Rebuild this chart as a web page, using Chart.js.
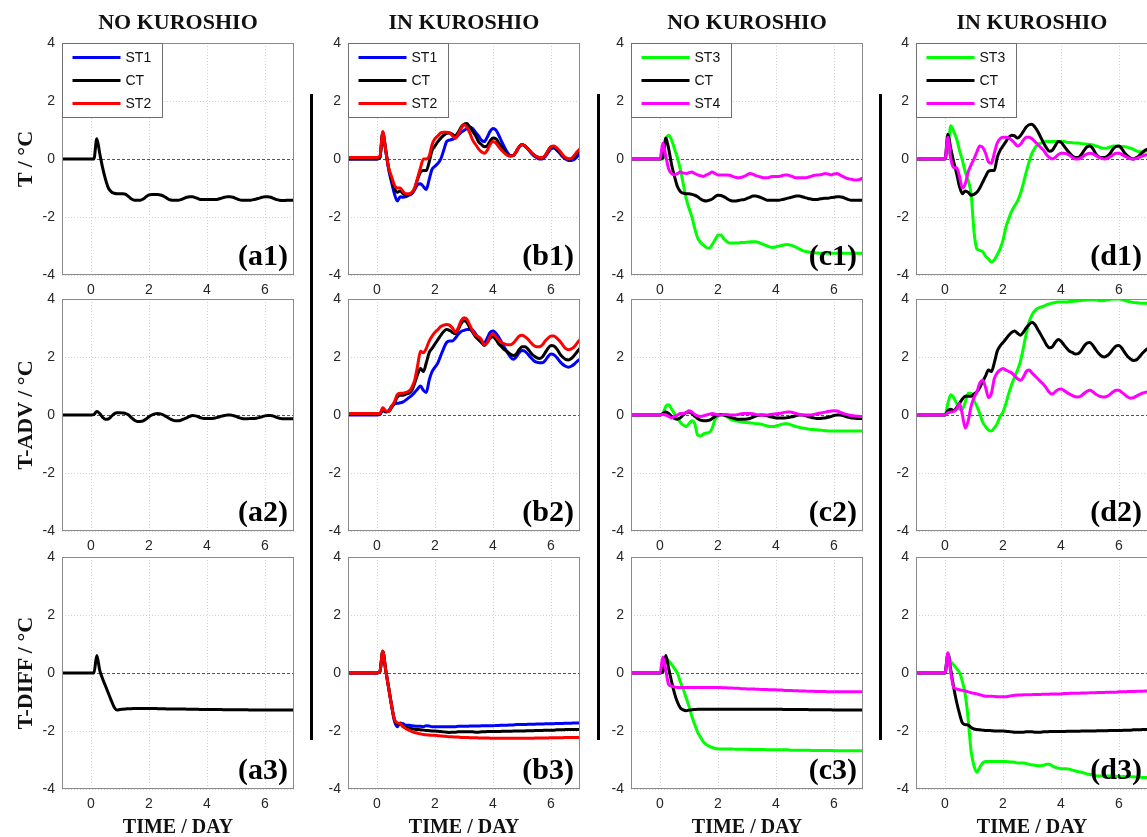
<!DOCTYPE html>
<html>
<head>
<meta charset="utf-8">
<script src="https://cdn.jsdelivr.net/npm/chart.js@4.4.1/dist/chart.umd.min.js"></script>
<style>
  html, body { margin: 0; padding: 0; background: #fff; }
  body { position: relative; width: 1147px; height: 837px; overflow: hidden; }
  canvas { position: absolute; }
  .lbl { position: absolute; font-family: "Liberation Serif", "Times New Roman", serif; font-weight: bold;
         color: #111; white-space: nowrap; transform: translate(-50%, -50%); line-height: 1; }
  .rot { transform: translate(-50%, -50%) rotate(-90deg); }
  .sep { position: absolute; background: #000; width: 3px; }
</style>
</head>
<body>
<script>
// ---- sampling grid (days) ----
const TIME = [-1,
  0.0,0.1,0.2,0.3,0.4,0.5,0.6,0.7,0.8,0.9,
  1.0,1.1,1.2,1.3,1.4,1.5,1.6,1.7,1.8,1.9,
  2.0,2.1,2.2,2.3,2.4,2.5,2.6,2.7,2.8,2.9,
  3.0,3.1,3.2,3.3,3.4,3.5,3.6,3.7,3.8,3.9,
  4.0,4.1,4.2,4.3,4.4,4.5,4.6,4.7,4.8,4.9,
  5.0,5.1,5.2,5.3,5.4,5.5,5.6,5.7,5.8,5.9,
  6.0,6.1,6.2,6.3,6.4,6.5,6.6,6.7,6.8,6.9,
  7.0];

const X_TICKS = [0, 2, 4, 6];
const Y_TICKS = [-4, -2, 0, 2, 4];

// ---- NO KUROSHIO, stations ST1 / CT / ST2 ----
const A1_CT = [0,
  0,0,0.7,0.2,-0.3,-0.7,-1.0,-1.13,-1.18,-1.2,
  -1.2,-1.2,-1.22,-1.3,-1.38,-1.42,-1.42,-1.42,-1.38,-1.3,
  -1.24,-1.22,-1.22,-1.22,-1.24,-1.28,-1.34,-1.4,-1.42,-1.42,
  -1.42,-1.4,-1.36,-1.32,-1.3,-1.3,-1.33,-1.37,-1.4,-1.4,
  -1.4,-1.4,-1.4,-1.4,-1.38,-1.35,-1.32,-1.3,-1.3,-1.32,
  -1.36,-1.4,-1.42,-1.42,-1.42,-1.42,-1.4,-1.38,-1.35,-1.32,
  -1.3,-1.3,-1.32,-1.36,-1.4,-1.42,-1.43,-1.43,-1.42,-1.42,
  -1.42];
const A2_CT = [0,
  0,0.02,0.12,0.05,-0.08,-0.15,-0.14,-0.05,0.04,0.08,
  0.08,0.07,0.05,0,-0.1,-0.18,-0.22,-0.22,-0.2,-0.14,
  -0.06,0,0.04,0.05,0.04,0,-0.06,-0.12,-0.17,-0.2,
  -0.2,-0.18,-0.14,-0.1,-0.05,-0.02,-0.03,-0.06,-0.1,-0.12,
  -0.12,-0.12,-0.12,-0.1,-0.07,-0.04,-0.02,0,0,-0.02,
  -0.05,-0.09,-0.12,-0.13,-0.13,-0.12,-0.12,-0.11,-0.09,-0.06,
  -0.03,-0.02,-0.02,-0.04,-0.08,-0.11,-0.13,-0.13,-0.13,-0.13,
  -0.13];
const A3_CT = [0,
  0,0,0.6,0.1,-0.2,-0.45,-0.7,-0.95,-1.18,-1.28,
  -1.26,-1.25,-1.24,-1.23,-1.23,-1.22,-1.22,-1.22,-1.22,-1.22,
  -1.22,-1.22,-1.22,-1.23,-1.23,-1.23,-1.24,-1.24,-1.24,-1.24,
  -1.24,-1.24,-1.24,-1.25,-1.25,-1.25,-1.25,-1.25,-1.26,-1.26,
  -1.26,-1.26,-1.26,-1.26,-1.26,-1.26,-1.27,-1.27,-1.27,-1.27,
  -1.27,-1.27,-1.27,-1.27,-1.27,-1.28,-1.28,-1.28,-1.28,-1.28,
  -1.28,-1.28,-1.28,-1.28,-1.28,-1.28,-1.28,-1.28,-1.28,-1.28,
  -1.28];

// ---- IN KUROSHIO, stations ST1 / CT / ST2 ----
const B1_ST1 = [0,
  0,0.05,0.9,0.3,-0.35,-0.8,-1.2,-1.45,-1.3,-1.32,
  -1.3,-1.25,-1.2,-1.05,-0.88,-0.85,-0.95,-1.05,-0.7,-0.35,
  -0.25,-0.15,0,0.3,0.6,0.65,0.68,0.72,0.82,0.92,
  0.98,1.05,1.1,1.05,0.92,0.8,0.65,0.6,0.75,0.95,
  1.05,1.0,0.82,0.6,0.4,0.22,0.12,0.12,0.25,0.42,
  0.5,0.45,0.35,0.22,0.12,0.05,0,0,0.08,0.22,
  0.35,0.38,0.3,0.2,0.08,0,-0.05,-0.05,-0.02,0.08,
  0.18];
const B1_CT = [0,
  0,0.05,0.9,0.3,-0.3,-0.7,-1.0,-1.15,-1.1,-1.2,
  -1.25,-1.22,-1.18,-1.0,-0.7,-0.45,-0.4,-0.4,-0.1,0.3,
  0.45,0.6,0.72,0.82,0.88,0.9,0.85,0.8,0.92,1.1,
  1.2,1.22,1.1,0.95,0.8,0.6,0.5,0.42,0.45,0.62,
  0.72,0.7,0.55,0.42,0.28,0.15,0.1,0.12,0.25,0.42,
  0.5,0.45,0.35,0.25,0.15,0.08,0.05,0.05,0.12,0.28,
  0.42,0.42,0.35,0.25,0.12,0.03,0,0,0.08,0.2,
  0.3];
const B1_ST2 = [0.05,
  0.05,0.1,0.95,0.3,-0.3,-0.6,-0.9,-1.0,-1.0,-1.12,
  -1.2,-1.2,-1.15,-1.0,-0.65,-0.3,0,0,0.1,0.5,
  0.7,0.8,0.9,0.92,0.92,0.9,0.8,0.72,0.85,1.05,
  1.18,1.1,0.9,0.65,0.5,0.35,0.25,0.2,0.3,0.5,
  0.6,0.55,0.42,0.3,0.2,0.12,0.1,0.12,0.25,0.42,
  0.5,0.45,0.35,0.25,0.15,0.08,0.05,0.05,0.12,0.28,
  0.42,0.45,0.38,0.28,0.15,0.05,0,0.02,0.12,0.25,
  0.35];

const B2_ST1 = [0,
  0,0.02,0.15,0.1,0.15,0.3,0.38,0.4,0.42,0.45,
  0.52,0.6,0.68,0.78,0.9,1.0,0.85,0.78,1.2,1.5,
  1.65,1.8,2.05,2.3,2.5,2.55,2.55,2.65,2.78,2.88,
  2.92,2.95,2.95,2.92,2.8,2.62,2.52,2.5,2.65,2.85,
  2.9,2.82,2.68,2.5,2.32,2.15,2.0,1.92,2.0,2.15,
  2.22,2.2,2.1,1.98,1.88,1.82,1.8,1.8,1.88,2.02,
  2.1,2.08,1.98,1.85,1.75,1.68,1.65,1.68,1.75,1.85,
  1.92];
const B2_CT = [0.02,
  0.02,0.03,0.2,0.12,0.12,0.25,0.4,0.62,0.68,0.68,
  0.72,0.75,0.85,1.1,1.4,1.6,1.5,1.8,2.15,2.3,
  2.45,2.6,2.75,2.88,2.95,2.92,2.85,2.8,2.95,3.15,
  3.25,3.2,3.0,2.85,2.7,2.6,2.5,2.4,2.5,2.65,
  2.7,2.6,2.45,2.35,2.25,2.18,2.1,2.05,2.1,2.25,
  2.35,2.35,2.28,2.15,2.05,1.98,1.95,2.0,2.15,2.3,
  2.4,2.38,2.28,2.12,2.0,1.92,1.9,1.95,2.05,2.18,
  2.3];
const B2_ST2 = [0.05,
  0.05,0.05,0.25,0.15,0.12,0.3,0.45,0.7,0.75,0.75,
  0.78,0.82,0.95,1.2,1.7,2.2,2.15,2.3,2.55,2.72,
  2.85,2.95,3.05,3.1,3.12,3.1,3.0,2.85,3.0,3.25,
  3.35,3.3,3.1,2.9,2.75,2.7,2.6,2.42,2.5,2.7,
  2.8,2.7,2.58,2.5,2.45,2.42,2.42,2.48,2.6,2.72,
  2.75,2.7,2.62,2.5,2.4,2.35,2.35,2.42,2.55,2.65,
  2.72,2.72,2.65,2.55,2.42,2.3,2.25,2.28,2.35,2.48,
  2.6];

const B3_ST1 = [0,
  0,0.05,0.75,0.1,-0.5,-1.1,-1.65,-1.85,-1.72,-1.75,
  -1.8,-1.8,-1.82,-1.83,-1.84,-1.84,-1.85,-1.82,-1.83,-1.85,
  -1.85,-1.85,-1.85,-1.85,-1.85,-1.85,-1.85,-1.85,-1.84,-1.84,
  -1.84,-1.84,-1.83,-1.83,-1.83,-1.83,-1.82,-1.82,-1.82,-1.82,
  -1.82,-1.81,-1.81,-1.8,-1.8,-1.8,-1.79,-1.79,-1.78,-1.78,
  -1.78,-1.78,-1.77,-1.77,-1.77,-1.76,-1.76,-1.76,-1.75,-1.75,
  -1.75,-1.75,-1.74,-1.74,-1.74,-1.73,-1.73,-1.73,-1.72,-1.72,
  -1.72];
const B3_CT = [0,
  0,0.05,0.75,0.1,-0.5,-1.1,-1.6,-1.75,-1.75,-1.85,
  -1.88,-1.9,-1.92,-1.94,-1.95,-1.96,-1.97,-1.98,-1.99,-2.0,
  -2.0,-2.01,-2.02,-2.03,-2.04,-2.05,-2.04,-2.04,-2.03,-2.03,
  -2.03,-2.03,-2.03,-2.03,-2.04,-2.04,-2.03,-2.03,-2.02,-2.02,
  -2.02,-2.02,-2.02,-2.01,-2.01,-2.01,-2.01,-2.0,-2.0,-2.0,
  -2.0,-2.0,-1.99,-1.99,-1.99,-1.98,-1.98,-1.98,-1.97,-1.97,
  -1.97,-1.97,-1.96,-1.96,-1.96,-1.95,-1.95,-1.95,-1.95,-1.95,
  -1.95];
const B3_ST2 = [0,
  0,0.05,0.75,0.1,-0.5,-1.1,-1.6,-1.72,-1.75,-1.85,
  -1.92,-1.97,-2.02,-2.05,-2.08,-2.1,-2.12,-2.13,-2.14,-2.15,
  -2.15,-2.16,-2.17,-2.18,-2.19,-2.2,-2.2,-2.21,-2.21,-2.22,
  -2.22,-2.22,-2.23,-2.23,-2.23,-2.24,-2.24,-2.24,-2.24,-2.25,
  -2.25,-2.25,-2.25,-2.25,-2.25,-2.25,-2.25,-2.25,-2.25,-2.25,
  -2.25,-2.25,-2.25,-2.25,-2.25,-2.24,-2.24,-2.24,-2.24,-2.24,
  -2.23,-2.23,-2.23,-2.23,-2.23,-2.22,-2.22,-2.22,-2.22,-2.22,
  -2.22];

// ---- NO KUROSHIO, stations ST3 / CT / ST4 ----
const C1_ST3 = [0,
  0,0,0.65,0.82,0.65,0.35,0.05,-0.35,-0.85,-1.35,
  -1.7,-2.0,-2.4,-2.72,-2.88,-2.97,-3.05,-3.08,-2.95,-2.78,
  -2.62,-2.62,-2.75,-2.84,-2.9,-2.9,-2.9,-2.9,-2.88,-2.88,
  -2.87,-2.86,-2.85,-2.85,-2.88,-2.92,-2.96,-3.0,-3.04,-3.05,
  -3.03,-3.0,-2.98,-2.96,-2.95,-2.97,-3.0,-3.05,-3.1,-3.15,
  -3.18,-3.2,-3.22,-3.23,-3.24,-3.25,-3.25,-3.25,-3.25,-3.25,
  -3.25,-3.25,-3.25,-3.25,-3.25,-3.25,-3.25,-3.25,-3.25,-3.25,
  -3.25];
const C1_CT = [0,
  0,0.05,0.72,0.35,-0.2,-0.6,-0.95,-1.12,-1.18,-1.2,
  -1.2,-1.22,-1.25,-1.3,-1.38,-1.43,-1.45,-1.42,-1.38,-1.3,
  -1.25,-1.26,-1.3,-1.36,-1.42,-1.45,-1.45,-1.43,-1.41,-1.4,
  -1.36,-1.32,-1.28,-1.28,-1.3,-1.34,-1.38,-1.42,-1.42,-1.42,
  -1.42,-1.42,-1.4,-1.38,-1.35,-1.33,-1.3,-1.28,-1.28,-1.3,
  -1.33,-1.36,-1.38,-1.4,-1.4,-1.38,-1.36,-1.35,-1.35,-1.33,
  -1.32,-1.3,-1.3,-1.32,-1.36,-1.4,-1.42,-1.42,-1.42,-1.42,
  -1.42];
const C1_ST4 = [0,
  0,0.55,0.1,-0.35,-0.5,-0.55,-0.5,-0.45,-0.48,-0.5,
  -0.47,-0.45,-0.5,-0.55,-0.58,-0.6,-0.55,-0.5,-0.45,-0.5,
  -0.55,-0.55,-0.55,-0.55,-0.56,-0.6,-0.63,-0.65,-0.63,-0.6,
  -0.55,-0.5,-0.52,-0.57,-0.6,-0.63,-0.65,-0.65,-0.62,-0.6,
  -0.6,-0.6,-0.58,-0.55,-0.55,-0.58,-0.62,-0.65,-0.65,-0.65,
  -0.65,-0.63,-0.6,-0.57,-0.55,-0.55,-0.53,-0.5,-0.52,-0.55,
  -0.52,-0.5,-0.55,-0.6,-0.65,-0.68,-0.7,-0.72,-0.72,-0.7,
  -0.65];

const C2_ST3 = [0,
  0,0.05,0.3,0.35,0.2,0.05,-0.1,-0.25,-0.35,-0.4,
  -0.3,-0.2,-0.3,-0.7,-0.72,-0.65,-0.62,-0.6,-0.45,-0.15,
  -0.05,0,0,-0.05,-0.12,-0.18,-0.2,-0.22,-0.24,-0.25,
  -0.26,-0.27,-0.28,-0.3,-0.3,-0.32,-0.35,-0.38,-0.4,-0.4,
  -0.38,-0.35,-0.32,-0.3,-0.3,-0.33,-0.37,-0.4,-0.42,-0.45,
  -0.46,-0.48,-0.5,-0.5,-0.51,-0.52,-0.53,-0.54,-0.55,-0.55,
  -0.55,-0.55,-0.55,-0.55,-0.55,-0.55,-0.55,-0.55,-0.55,-0.55,
  -0.55];
const C2_CT = [0,
  0,0.05,0.1,0.05,-0.05,-0.12,-0.15,-0.1,0,0.08,
  0.1,0.05,-0.05,-0.12,-0.18,-0.2,-0.2,-0.18,-0.12,-0.05,
  0,0.02,0,-0.03,-0.07,-0.1,-0.13,-0.15,-0.15,-0.15,
  -0.14,-0.12,-0.08,-0.04,-0.01,0,-0.01,-0.03,-0.06,-0.08,
  -0.1,-0.1,-0.1,-0.1,-0.09,-0.07,-0.05,-0.02,0,0,
  -0.02,-0.05,-0.08,-0.1,-0.12,-0.12,-0.11,-0.1,-0.08,-0.05,
  -0.02,0,0,-0.02,-0.05,-0.08,-0.1,-0.11,-0.12,-0.12,
  -0.12];
const C2_ST4 = [0,
  0,0.02,0,-0.05,-0.1,-0.05,0,0.05,0.05,0.08,
  0.15,0.1,0.02,-0.03,-0.05,-0.03,0,0.03,0.05,0.03,
  0,0,0.02,0.02,0,0,0,0.02,0.04,0.05,
  0.05,0.05,0.04,0.02,0,0,0,0,0.02,0.03,
  0.04,0.05,0.07,0.09,0.1,0.1,0.08,0.05,0.02,0,
  0,0,0,0.02,0.04,0.06,0.08,0.1,0.12,0.14,
  0.15,0.14,0.1,0.06,0.03,0,-0.02,-0.03,-0.04,-0.05,
  -0.05];

const C3_ST3 = [0,
  0,0.05,0.5,0.42,0.3,0.15,0,-0.3,-0.55,-0.85,
  -1.15,-1.5,-1.78,-2.05,-2.22,-2.38,-2.47,-2.53,-2.57,-2.6,
  -2.62,-2.62,-2.62,-2.62,-2.62,-2.62,-2.63,-2.63,-2.63,-2.63,
  -2.63,-2.64,-2.64,-2.64,-2.64,-2.64,-2.64,-2.65,-2.65,-2.65,
  -2.65,-2.65,-2.65,-2.65,-2.65,-2.66,-2.66,-2.66,-2.66,-2.66,
  -2.66,-2.66,-2.67,-2.67,-2.67,-2.67,-2.67,-2.67,-2.67,-2.67,
  -2.68,-2.68,-2.68,-2.68,-2.68,-2.68,-2.68,-2.68,-2.68,-2.68,
  -2.68];
const C3_CT = [0,
  0,0.05,0.6,0.15,-0.3,-0.7,-1.0,-1.2,-1.27,-1.3,
  -1.28,-1.27,-1.26,-1.25,-1.25,-1.25,-1.25,-1.25,-1.25,-1.25,
  -1.25,-1.25,-1.25,-1.25,-1.25,-1.25,-1.25,-1.25,-1.25,-1.25,
  -1.25,-1.25,-1.25,-1.25,-1.25,-1.25,-1.25,-1.25,-1.25,-1.25,
  -1.25,-1.25,-1.25,-1.26,-1.26,-1.26,-1.26,-1.26,-1.26,-1.26,
  -1.26,-1.26,-1.27,-1.27,-1.27,-1.27,-1.27,-1.27,-1.27,-1.27,
  -1.28,-1.28,-1.28,-1.28,-1.28,-1.28,-1.28,-1.28,-1.28,-1.28,
  -1.28];
const C3_ST4 = [0,
  0,0.55,0.1,-0.4,-0.45,-0.48,-0.5,-0.5,-0.5,-0.5,
  -0.5,-0.5,-0.5,-0.5,-0.5,-0.5,-0.5,-0.5,-0.5,-0.5,
  -0.5,-0.5,-0.51,-0.51,-0.52,-0.52,-0.53,-0.53,-0.54,-0.54,
  -0.55,-0.55,-0.55,-0.56,-0.56,-0.57,-0.57,-0.57,-0.58,-0.58,
  -0.58,-0.59,-0.59,-0.6,-0.6,-0.6,-0.61,-0.61,-0.62,-0.62,
  -0.62,-0.63,-0.63,-0.63,-0.64,-0.64,-0.64,-0.64,-0.65,-0.65,
  -0.65,-0.65,-0.65,-0.65,-0.65,-0.65,-0.65,-0.65,-0.65,-0.65,
  -0.65];

// ---- IN KUROSHIO, stations ST3 / CT / ST4 ----
const D1_ST3 = [0,
  0,0.3,1.15,0.95,0.7,0.3,-0.05,-0.45,-0.75,-1.2,
  -2.5,-3.1,-3.15,-3.2,-3.35,-3.45,-3.55,-3.48,-3.3,-3.1,
  -2.8,-2.35,-2.05,-1.8,-1.62,-1.45,-1.2,-0.85,-0.45,-0.1,
  0.2,0.38,0.5,0.55,0.58,0.6,0.6,0.6,0.6,0.6,
  0.6,0.6,0.58,0.57,0.56,0.55,0.55,0.53,0.52,0.51,
  0.5,0.48,0.45,0.42,0.38,0.37,0.38,0.42,0.45,0.45,
  0.44,0.43,0.42,0.4,0.37,0.33,0.28,0.25,0.25,0.27,
  0.3];
const D1_CT = [0,
  0,0.85,0.35,-0.1,-0.5,-0.95,-1.2,-1.1,-1.15,-1.25,
  -1.22,-1.15,-1.0,-0.8,-0.6,-0.42,-0.4,-0.4,0.05,0.3,
  0.45,0.6,0.75,0.82,0.8,0.72,0.8,0.95,1.1,1.18,
  1.2,1.1,0.95,0.75,0.55,0.38,0.27,0.3,0.45,0.6,
  0.58,0.45,0.32,0.2,0.1,0.05,0.05,0.15,0.3,0.42,
  0.45,0.35,0.18,0.08,0.05,0.05,0.1,0.2,0.35,0.43,
  0.45,0.35,0.2,0.1,0.03,0,0.05,0.12,0.22,0.3,
  0.35];
const D1_ST4 = [0,
  0,0.75,0,-0.3,-0.3,-0.6,-1.0,-0.85,-0.45,-0.2,
  0,0.25,0.45,0.4,0.2,-0.1,-0.15,0.2,0.55,0.7,
  0.75,0.75,0.72,0.65,0.55,0.45,0.5,0.65,0.75,0.75,
  0.7,0.6,0.5,0.4,0.3,0.15,0.05,0,0.05,0.15,
  0.2,0.2,0.18,0.12,0.05,0,0,0.05,0.12,0.18,
  0.2,0.18,0.12,0.06,0.02,0,0.02,0.08,0.15,0.2,
  0.2,0.15,0.1,0.05,0.01,0,0.02,0.06,0.1,0.14,
  0.15];

const D2_ST3 = [0,
  0,0.4,0.7,0.6,0.4,0.2,0.2,0.45,0.75,0.75,
  0.5,0.3,0.05,-0.25,-0.4,-0.52,-0.55,-0.45,-0.3,-0.05,
  0.1,0.4,0.75,1.05,1.3,1.55,1.85,2.3,2.8,3.2,
  3.45,3.6,3.68,3.72,3.75,3.8,3.83,3.86,3.88,3.9,
  3.9,3.9,3.9,3.91,3.92,3.93,3.94,3.95,3.96,3.97,
  3.98,3.98,3.97,3.95,3.94,3.95,3.97,3.99,4.0,4.0,
  4.0,3.98,3.95,3.92,3.9,3.88,3.87,3.86,3.85,3.85,
  3.85];
const D2_CT = [0,
  0,0.15,0.2,0.15,0.25,0.4,0.55,0.65,0.65,0.65,
  0.72,0.8,0.95,1.15,1.35,1.55,1.5,1.8,2.2,2.38,
  2.5,2.62,2.75,2.85,2.9,2.82,2.75,2.85,3.0,3.12,
  3.2,3.12,2.95,2.78,2.6,2.42,2.32,2.35,2.5,2.6,
  2.55,2.42,2.3,2.2,2.15,2.1,2.12,2.22,2.38,2.48,
  2.5,2.4,2.25,2.12,2.03,2.0,2.05,2.15,2.28,2.38,
  2.4,2.3,2.15,2.02,1.93,1.88,1.9,2.0,2.12,2.22,
  2.3];
const D2_ST4 = [0,
  0,0.08,0.1,0.12,0.2,0.4,0,-0.45,-0.2,0.3,
  0.6,0.8,1.1,1.2,0.95,0.6,0.75,1.25,1.45,1.55,
  1.6,1.55,1.5,1.45,1.35,1.25,1.2,1.3,1.5,1.55,
  1.45,1.35,1.25,1.15,1.05,0.92,0.78,0.72,0.8,0.88,
  0.9,0.85,0.78,0.72,0.67,0.63,0.62,0.66,0.75,0.82,
  0.85,0.8,0.72,0.66,0.63,0.62,0.65,0.72,0.8,0.85,
  0.85,0.78,0.7,0.62,0.58,0.6,0.65,0.7,0.75,0.78,
  0.8];

const D3_ST3 = [0,
  0,0.65,0.4,0.28,0.15,0.02,-0.3,-0.75,-1.6,-2.7,
  -3.2,-3.42,-3.25,-3.1,-3.05,-3.05,-3.05,-3.05,-3.05,-3.05,
  -3.05,-3.05,-3.06,-3.07,-3.08,-3.1,-3.1,-3.1,-3.12,-3.15,
  -3.17,-3.18,-3.2,-3.2,-3.18,-3.15,-3.15,-3.2,-3.25,-3.28,
  -3.3,-3.3,-3.3,-3.32,-3.35,-3.38,-3.4,-3.42,-3.45,-3.48,
  -3.5,-3.52,-3.54,-3.55,-3.55,-3.55,-3.55,-3.55,-3.56,-3.56,
  -3.57,-3.57,-3.57,-3.58,-3.58,-3.58,-3.59,-3.59,-3.6,-3.6,
  -3.6];
const D3_CT = [0,
  0,0.65,0.1,-0.5,-1.0,-1.4,-1.72,-1.78,-1.8,-1.88,
  -1.93,-1.95,-1.96,-1.97,-1.98,-1.98,-1.99,-2.0,-2.0,-2.0,
  -2.0,-2.01,-2.02,-2.03,-2.04,-2.04,-2.04,-2.04,-2.03,-2.03,
  -2.03,-2.04,-2.04,-2.04,-2.03,-2.03,-2.02,-2.02,-2.02,-2.02,
  -2.02,-2.02,-2.01,-2.01,-2.01,-2.01,-2.01,-2.0,-2.0,-2.0,
  -2.0,-2.0,-2.0,-1.99,-1.99,-1.99,-1.99,-1.98,-1.98,-1.98,
  -1.98,-1.98,-1.97,-1.97,-1.97,-1.96,-1.96,-1.96,-1.95,-1.95,
  -1.95];
const D3_ST4 = [0,
  0,0.7,0,-0.5,-0.55,-0.58,-0.6,-0.62,-0.65,-0.68,
  -0.7,-0.72,-0.75,-0.78,-0.8,-0.8,-0.8,-0.81,-0.82,-0.82,
  -0.82,-0.82,-0.8,-0.78,-0.77,-0.76,-0.76,-0.75,-0.75,-0.75,
  -0.75,-0.74,-0.74,-0.74,-0.73,-0.73,-0.73,-0.72,-0.72,-0.72,
  -0.72,-0.71,-0.71,-0.7,-0.7,-0.7,-0.7,-0.69,-0.69,-0.69,
  -0.68,-0.68,-0.68,-0.67,-0.67,-0.67,-0.66,-0.66,-0.66,-0.66,
  -0.65,-0.65,-0.65,-0.64,-0.64,-0.64,-0.63,-0.63,-0.63,-0.62,
  -0.62];

// ---- text ----
const COLUMN_TITLES = ['NO KUROSHIO', 'IN KUROSHIO', 'NO KUROSHIO', 'IN KUROSHIO'];
const ROW_TITLES = ['T / °C', 'T-ADV / °C', 'T-DIFF / °C'];
const X_TITLE = 'TIME / DAY';

// ---- look ----
const COLORS = { ST1: '#0000ff', CT: '#000000', ST2: '#ff0000', ST3: '#00ff00', ST4: '#ff00ff' };
const COL_LEFT = [62, 348, 631, 916];
const ROW_TOP = [43, 299, 557];
const PLOT_W = 232, PLOT_H = 232;
const AXIS_W = 45, AXIS_H = 26, PAD_T = 10, PAD_R = 8;

// Panel grid: [tag, column, row, series (name, values), legend entries]
const PANELS = [
  ['(a1)', 0, 0, [['ST1', []], ['ST2', []], ['CT', A1_CT]], ['ST1', 'CT', 'ST2']],
  ['(a2)', 0, 1, [['CT', A2_CT]]],
  ['(a3)', 0, 2, [['CT', A3_CT]]],
  ['(b1)', 1, 0, [['ST1', B1_ST1], ['CT', B1_CT], ['ST2', B1_ST2]], ['ST1', 'CT', 'ST2']],
  ['(b2)', 1, 1, [['ST1', B2_ST1], ['CT', B2_CT], ['ST2', B2_ST2]]],
  ['(b3)', 1, 2, [['ST1', B3_ST1], ['CT', B3_CT], ['ST2', B3_ST2]]],
  ['(c1)', 2, 0, [['ST3', C1_ST3], ['CT', C1_CT], ['ST4', C1_ST4]], ['ST3', 'CT', 'ST4']],
  ['(c2)', 2, 1, [['ST3', C2_ST3], ['CT', C2_CT], ['ST4', C2_ST4]]],
  ['(c3)', 2, 2, [['ST3', C3_ST3], ['CT', C3_CT], ['ST4', C3_ST4]]],
  ['(d1)', 3, 0, [['ST3', D1_ST3], ['CT', D1_CT], ['ST4', D1_ST4]], ['ST3', 'CT', 'ST4']],
  ['(d2)', 3, 1, [['ST3', D2_ST3], ['CT', D2_CT], ['ST4', D2_ST4]]],
  ['(d3)', 3, 2, [['ST3', D3_ST3], ['CT', D3_CT], ['ST4', D3_ST4]]],
];

// Frame, panel tag and the inset legend, drawn on top of the curves
const panelDecor = {
  id: 'panelDecor',
  afterDatasetsDraw(chart, args, opts) {
    const { ctx, chartArea: a } = chart;
    ctx.save();
    ctx.font = 'bold 30px "Liberation Serif", "Times New Roman", serif';
    ctx.textAlign = 'right';
    ctx.textBaseline = 'alphabetic';
    ctx.fillStyle = '#000';
    ctx.fillText(opts.tag, a.right - 6, a.bottom - 10);

    ctx.strokeStyle = '#8a8a8a';
    ctx.lineWidth = 1;
    ctx.strokeRect(Math.round(a.left) + 0.5, Math.round(a.top) + 0.5,
                   Math.round(a.width) - 1, Math.round(a.height) - 1);

    if (opts.legend) {
      const x = Math.round(a.left) + 0.5, y = Math.round(a.top) + 0.5;
      ctx.fillStyle = '#fff';
      ctx.fillRect(x, y, 100, 74);
      ctx.strokeStyle = '#6e6e6e';
      ctx.strokeRect(x, y, 100, 74);
      ctx.font = '14px "Liberation Sans", Arial, sans-serif';
      ctx.textAlign = 'left';
      ctx.textBaseline = 'middle';
      opts.legend.forEach((name, i) => {
        const ly = y + 14 + i * 23;
        ctx.strokeStyle = COLORS[name];
        ctx.lineWidth = 3;
        ctx.beginPath();
        ctx.moveTo(x + 10, ly);
        ctx.lineTo(x + 58, ly);
        ctx.stroke();
        ctx.fillStyle = '#111';
        ctx.fillText(name, x + 63, ly + 1);
      });
    }
    ctx.restore();
  }
};

function gridColor(c) { return c.tick && c.tick.value === 0 ? '#555' : '#d2d2d2'; }
function gridDash(c) { return c.tick && c.tick.value === 0 ? [3, 2] : [1, 2]; }

function axis(min, max, ticks, isX) {
  return {
    type: 'linear', min, max,
    afterBuildTicks: s => { s.ticks = ticks.map(v => ({ value: v })); },
    afterFit: s => {
      if (isX) s.height = AXIS_H; else s.width = AXIS_W;
      s.paddingTop = 0; s.paddingBottom = 0; s.paddingLeft = 0; s.paddingRight = 0;
    },
    grid: { color: isX ? '#d2d2d2' : gridColor, lineWidth: 1, drawTicks: false },
    border: { display: false, dash: isX ? [1, 2] : gridDash },
    ticks: {
      autoSkip: false, maxRotation: 0, padding: 7, color: '#262626',
      font: { family: '"Liberation Sans", Arial, sans-serif', size: 14 },
      callback: v => String(v)
    }
  };
}

PANELS.forEach(([tag, col, row, series, legend]) => {
  const cv = document.createElement('canvas');
  const W = AXIS_W + PLOT_W + PAD_R, H = PAD_T + PLOT_H + AXIS_H;
  cv.width = W; cv.height = H;
  cv.style.width = W + 'px'; cv.style.height = H + 'px';
  cv.style.left = (COL_LEFT[col] - AXIS_W) + 'px';
  cv.style.top = (ROW_TOP[row] - PAD_T) + 'px';
  document.body.appendChild(cv);

  const n = series.length;
  const datasets = series.map(([name, vals], i) => ({
    label: name,
    data: vals.map((v, k) => ({ x: TIME[k], y: v })),
    borderColor: COLORS[name],
    borderWidth: 3,
    pointRadius: 0,
    fill: false,
    cubicInterpolationMode: 'monotone',
    order: n - i
  }));

  new Chart(cv, {
    type: 'line',
    data: { datasets },
    options: {
      responsive: false, animation: false, devicePixelRatio: 1,
      layout: { padding: { top: PAD_T, right: PAD_R, left: 0, bottom: 0 } },
      plugins: { legend: { display: false }, tooltip: { enabled: false },
                 panelDecor: { tag, legend } },
      scales: { x: axis(-1, 7, X_TICKS, true), y: axis(-4, 4, Y_TICKS, false) }
    },
    plugins: [panelDecor]
  });
});

// Titles, axis names and the column separators
function addText(txt, x, y, size, cls) {
  const d = document.createElement('div');
  d.className = 'lbl' + (cls ? ' ' + cls : '');
  d.textContent = txt;
  d.style.left = x + 'px'; d.style.top = y + 'px'; d.style.fontSize = size + 'px';
  document.body.appendChild(d);
}
COLUMN_TITLES.forEach((t, i) => {
  const cx = COL_LEFT[i] + PLOT_W / 2;
  addText(t, cx, 22, 22);
  addText(X_TITLE, cx, 826, 20);
});
ROW_TITLES.forEach((t, i) => addText(t, 25, ROW_TOP[i] + PLOT_H / 2, 22, 'rot'));
[310, 597, 879].forEach(x => {
  const s = document.createElement('div');
  s.className = 'sep';
  s.style.left = x + 'px'; s.style.top = '94px'; s.style.height = '646px';
  document.body.appendChild(s);
});
</script>
</body>
</html>
